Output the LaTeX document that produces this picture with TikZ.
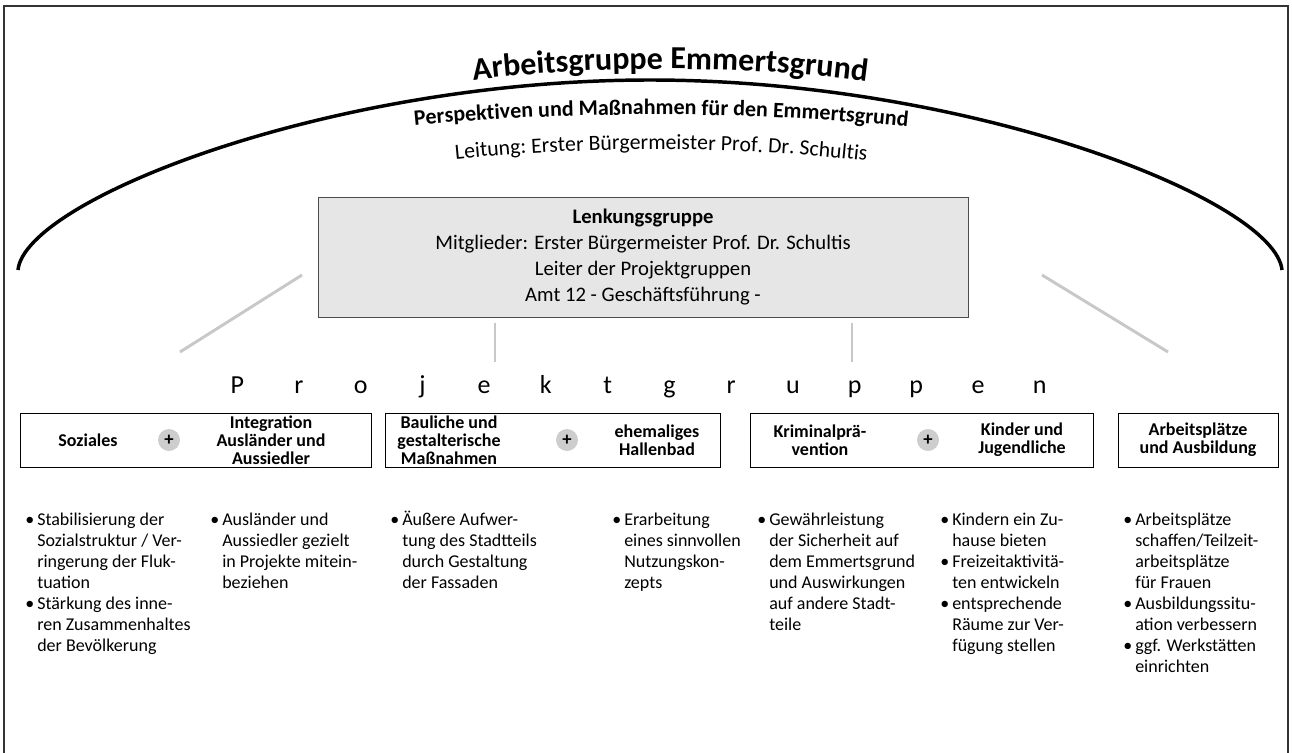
\documentclass[tikz,border=0pt]{standalone}
\usepackage{fontspec}
\setmainfont{Carlito}
\usetikzlibrary{positioning,decorations.text}

\definecolor{linkgray}{RGB}{200,200,200}
\definecolor{boxgray}{RGB}{230,230,230}
\definecolor{plusgray}{RGB}{205,205,205}

\newcommand\bul{\rule{0pt}{11.5pt}\makebox[9pt][l]{\textbullet}}
\newcommand\ind{\hspace*{9pt}}
\newcommand\lsp[1]{\makebox[46.3pt]{#1}}

\tikzset{
  frame/.style={draw=black!80, line width=0.8pt},
  link/.style={draw=linkgray, line width=2.2pt},
  lenkbox/.style={draw=black!70, fill=boxgray, minimum width=487.5pt, minimum height=90pt,
    align=center, font=\fontsize{15.5}{19.7}\selectfont},
  groupbox/.style={draw=black, line width=0.7pt, minimum height=40.5pt},
  head/.style={align=center, font=\fontsize{13.5}{13.5}\selectfont\bfseries, inner sep=0pt},
  plus/.style={circle, fill=plusgray, inner sep=0pt, minimum size=16.5pt, font=\fontsize{14}{14}\selectfont\bfseries},
  items/.style={anchor=north west, align=left, inner sep=0pt, font=\fontsize{13.5}{15.75}\selectfont}
}

\begin{document}
\begin{tikzpicture}[x=0.75pt, y=-0.75pt]
  \useasboundingbox (0,0) rectangle (1292,753);
  \draw[frame] (4,753) -- (4,6) -- (1288,6) -- (1288,753);

  % big arch
  \draw[line width=2.6pt] (18,270) .. controls (25,200) and (330,80) .. (650,80)
    .. controls (970,80) and (1275,200) .. (1282,270);

  % arched titles
  \path[decorate, decoration={text along path, text align=center,
    text={|\fontsize{24}{28}\selectfont\bfseries|Arbeitsgruppe Emmertsgrund}}]
    (430,86) .. controls (580,63) and (760,63) .. (910,88);
  \path[decorate, decoration={text along path, text align=center,
    text={|\fontsize{16.5}{20}\selectfont\bfseries|Perspektiven und Maßnahmen für den Emmertsgrund}}]
    (390,128) .. controls (550,110) and (770,110) .. (932,130);
  \path[decorate, decoration={text along path, text align=center,
    text={|\fontsize{16.3}{19}\selectfont|Leitung: Erster Bürgermeister Prof. Dr. Schultis}}]
    (430,162) .. controls (580,145) and (745,145) .. (892,164);

  % Lenkungsgruppe
  \node[lenkbox] (lenk) at (643,257) {{\bfseries Lenkungsgruppe}\\
    Mitglieder: Erster Bürgermeister Prof. Dr. Schultis\\
    Leiter der Projektgruppen\\
    Amt 12 - Geschäftsführung -};

  % grey links
  \coordinate (l1a) at (302,275); \coordinate (l1b) at (180,352);
  \coordinate (l2a) at (495,323); \coordinate (l2b) at (495,362);
  \coordinate (l3a) at (852,323); \coordinate (l3b) at (852,362);
  \coordinate (l4a) at (1042,275); \coordinate (l4b) at (1168,352);
  \draw[link] (l1a) -- (l1b);
  \draw[link] (l2a) -- (l2b);
  \draw[link] (l3a) -- (l3b);
  \draw[link] (l4a) -- (l4b);

  \node[anchor=base, inner sep=0pt, font=\fontsize{19.5}{22}\selectfont] (proj) at (638.5,393)
    {\lsp{P}\lsp{r}\lsp{o}\lsp{j}\lsp{e}\lsp{k}\lsp{t}\lsp{g}\lsp{r}\lsp{u}\lsp{p}\lsp{p}\lsp{e}\lsp{n}};

  % Projektgruppen
  \node[groupbox, minimum width=263.25pt] (grA) at (195.5,440) {};
  \node[groupbox, minimum width=251.25pt] (grB) at (552.5,440) {};
  \node[groupbox, minimum width=257.25pt] (grC) at (921.5,440) {};
  \node[groupbox, minimum width=120pt, head, inner sep=0pt] (grD) at (1198,440) {Arbeitsplätze\\und Ausbildung};

  \node[head] (soz) at (88,440) {Soziales};
  \node[plus] (plusA) at (169,440) {+};
  \node[head] (integ) at (271,440) {Integration\\Ausländer und\\Aussiedler};
  \node[head] (baul) at (449,440) {Bauliche und\\gestalterische\\Maßnahmen};
  \node[plus] (plusB) at (567,440) {+};
  \node[head] (hallen) at (657,440) {ehemaliges\\Hallenbad};
  \node[head] (krim) at (820,440) {Kriminalprä-\\vention};
  \node[plus] (plusC) at (928,440) {+};
  \node[head] (kind) at (1022,440) {Kinder und\\Jugendliche};

  % Massnahmen
  \node[items] (itA) at (25,510) {\bul Stabilisierung der\\ \ind Sozialstruktur / Ver-\\ \ind ringerung der Fluk-\\ \ind tuation\\
    \bul Stärkung des inne-\\ \ind ren Zusammenhaltes\\ \ind der Bevölkerung};
  \node[items] (itB) at (210,510) {\bul Ausländer und\\ \ind Aussiedler gezielt\\ \ind in Projekte mitein-\\ \ind beziehen};
  \node[items] (itC) at (390,510) {\bul Äußere Aufwer-\\ \ind tung des Stadtteils\\ \ind durch Gestaltung\\ \ind der Fassaden};
  \node[items] (itD) at (612,510) {\bul Erarbeitung\\ \ind eines sinnvollen\\ \ind Nutzungskon-\\ \ind zepts};
  \node[items] (itE) at (757,510) {\bul Gewährleistung\\ \ind der Sicherheit auf\\ \ind dem Emmertsgrund\\ \ind und Auswirkungen\\ \ind auf andere Stadt-\\ \ind teile};
  \node[items] (itF) at (940,510) {\bul Kindern ein Zu-\\ \ind hause bieten\\ \bul Freizeitaktivitä-\\ \ind ten entwickeln\\
    \bul entsprechende\\ \ind Räume zur Ver-\\ \ind fügung stellen};
  \node[items] (itG) at (1123,510) {\bul Arbeitsplätze\\ \ind schaffen/Teilzeit-\\ \ind arbeitsplätze\\ \ind für Frauen\\
    \bul Ausbildungssitu-\\ \ind ation verbessern\\ \bul ggf. Werkstätten\\ \ind einrichten};
\end{tikzpicture}
\end{document}
